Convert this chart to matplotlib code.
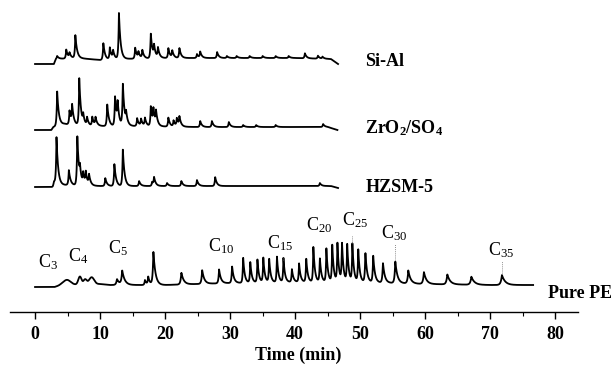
import numpy as np
import matplotlib
matplotlib.use("Agg")
import matplotlib.pyplot as plt

plt.rcParams['font.family'] = ['Liberation Serif', 'DejaVu Serif']
plt.rcParams['mathtext.fontset'] = 'custom'
plt.rcParams['mathtext.rm'] = 'Liberation Serif'
plt.rcParams['mathtext.default'] = 'regular'

# pyrolysis GC traces
# baseline knots (time min, level) and peaks (time min, height, width min)
sial_base_t = [0, 2.9, 3.2, 6.5, 10.0, 13.0, 20.0, 30.0, 40.0, 45.5, 46.6]
sial_base_y = [0, 0, 5, 6, 4, 5, 6, 6, 6, 5, 0]
sial_pk_t = [3.4, 4.8, 5.3, 6.2, 10.5, 11.5, 12.0, 12.9, 15.4, 15.9, 16.5, 17.8, 18.3, 18.9,
             20.5, 21.1, 22.2, 24.9, 25.4, 28.0, 29.5, 31.0, 33.0, 35.0, 37.0, 39.0, 41.5, 43.5, 44.2]
sial_pk_h = [3, 9, 5, 23, 17, 12, 8, 46, 11, 6, 8, 25, 11, 10,
             10, 7, 10, 4, 6, 6, 2, 2, 2, 2, 2, 2, 5, 3, 2]

zr_base_t = [0, 2.5, 2.8, 4.5, 8.0, 15.0, 25.0, 35.0, 45.0, 46.5]
zr_base_y = [0, 0, 3, 6, 4, 4, 3, 3, 3, 0]
zr_pk_t = [3.4, 5.3, 5.7, 6.8, 7.4, 8.0, 8.8, 9.3, 11.1, 12.3, 12.7, 13.5, 14.0, 15.7, 16.3,
           16.9, 17.8, 18.2, 18.6, 20.5, 21.3, 21.8, 22.2, 25.4, 27.2, 29.8, 32.0, 34.0, 37.0, 44.3]
zr_pk_h = [35, 14, 18, 47, 9, 8, 9, 8, 22, 30, 20, 42, 10, 8, 7,
           8, 20, 15, 13, 9, 6, 8, 9, 6, 6, 5, 2, 2, 2, 3]

hz_base_t = [0, 2.7, 3.0, 5.0, 10.0, 20.0, 30.0, 45.5, 46.6]
hz_base_y = [0, 0, 2, 2, 1, 1, 1, 1, -1]
hz_pk_t = [2.9, 3.3, 5.2, 6.5, 6.9, 7.4, 7.8, 8.3, 10.8, 12.2, 13.5, 16.0, 18.0, 18.3,
           20.3, 22.5, 24.9, 27.7, 43.8]
hz_pk_h = [4, 47, 15, 50, 12, 11, 12, 10, 8, 22, 37, 5, 4, 8,
           3, 5, 6, 9, 3]

pe_base_t = [0, 3.0, 4.0, 10.0, 11.5, 15.0, 20.0, 30.0, 40.0, 50.0, 60.0, 70.0, 74.0, 76.6]
pe_base_y = [0, 0, 2, 3, 2, 2, 2, 4, 5, 5, 3, 2, 2, 2]
pe_pk_t = [4.9, 6.9, 7.7, 8.7, 12.6, 13.4, 16.9, 17.4, 18.2, 22.5, 25.7, 28.3, 30.3, 32.0,
           33.1, 34.2, 35.1, 36.0, 37.2, 38.2, 39.5, 40.6, 41.7, 42.8, 43.8, 44.8, 45.7,
           46.5, 47.2, 48.0, 48.8, 49.7, 50.8, 52.0, 53.5, 55.4, 57.4, 59.8, 63.4, 67.1, 71.8]
pe_pk_h = [5, 8, 5, 7, 6, 14, 5, 8, 33, 12, 14, 14, 17, 26,
           21, 23, 25, 24, 26, 24, 13, 19, 24, 36, 24, 34, 38,
           39, 39, 38, 38, 33, 30, 27, 20, 22, 13, 12, 10, 8, 10]
pe_pk_w = [1.0, 0.45, 0.45, 0.7, 0.3, 0.3, 0.2, 0.2, 0.25, 0.28, 0.25, 0.22, 0.2, 0.18,
           0.18, 0.18, 0.18, 0.18, 0.18, 0.18, 0.18, 0.18, 0.18, 0.18, 0.18, 0.18, 0.18,
           0.18, 0.18, 0.18, 0.18, 0.18, 0.2, 0.2, 0.22, 0.25, 0.28, 0.3, 0.33, 0.36, 0.38]

carbon_labels = ['3', '4', '5', '10', '15', '20', '25', '30', '35']
carbon_t = [2.0, 6.6, 12.8, 28.6, 37.7, 43.7, 49.2, 55.2, 71.6]


def trace(bt, by, pt, ph, pw=None):
    t = np.linspace(0, bt[-1], 5000)
    y = np.interp(t, bt, by)
    if pw is None:
        pw = [0.2] * len(pt)
    for t0, h, w in zip(pt, ph, pw):
        d = t - t0
        if w >= 0.4:
            y += h * np.exp(-0.5 * (d / (0.55 * w)) ** 2)
        else:
            tau = np.where(d < 0, 0.45 * w, 1.3 * w)
            y += h * np.exp(-np.abs(d) / tau)
    return t, y


fig = plt.figure(figsize=(6.11, 3.69), dpi=100)
ax = fig.add_axes([10 / 611, 57 / 369, 568 / 611, 312 / 369])
ax.set_xlim(-3.85, 83.5)
ax.set_ylim(0, 312)

lines = [
    (trace(sial_base_t, sial_base_y, sial_pk_t, sial_pk_h), 312 - 64, 'Si-Al', 251),
    (trace(zr_base_t, zr_base_y, zr_pk_t, zr_pk_h), 312 - 130, 'ZrO$_2$/SO$_4$', 184),
    (trace(hz_base_t, hz_base_y, hz_pk_t, hz_pk_h), 312 - 187, 'HZSM-5', 125),
]
for (t, y), off, name, ly in lines:
    ax.plot(t, y + off, color='black', lw=1.3)
    ax.text(50.8, ly, name, fontsize=13, fontweight='bold', va='center', ha='left')

t, y = trace(pe_base_t, pe_base_y, pe_pk_t, pe_pk_h, pe_pk_w)
pe_off = 312 - 287
ax.plot(t, y + pe_off, color='black', lw=1.3)
ax.text(78.9, 19, 'Pure PE', fontsize=13, fontweight='bold', va='center', ha='left',
        clip_on=False)

# carbon number labels
lab_y = [50, 56, 64, 66, 69, 87, 92, 79, 62]
for c, tc, ly in zip(carbon_labels, carbon_t, lab_y):
    ax.text(tc, ly, 'C$_{%s}$' % c, fontsize=13, ha='center', va='center')
for tc, y0, y1 in [(38.2, 52, 56), (48.8, 69, 76), (55.4, 52, 68), (71.8, 39, 51)]:
    ax.plot([tc, tc], [y0, y1], color='0.4', lw=0.6, ls=(0, (1, 1.5)))

for s in ['top', 'right', 'left']:
    ax.spines[s].set_visible(False)
ax.spines['bottom'].set_linewidth(1.0)
ax.set_yticks([])
ax.set_xticks(np.arange(0, 81, 10))
ax.set_xticks(np.arange(5, 85, 10), minor=True)
ax.tick_params(axis='x', which='major', direction='out', length=5, width=1, pad=5,
               labelsize=13)
ax.tick_params(axis='x', which='minor', direction='out', length=3, width=0.8)
for lab in ax.get_xticklabels():
    lab.set_fontweight('bold')
ax.set_xlabel('Time (min)', fontsize=13, fontweight='bold')
ax.xaxis.set_label_coords((298 - 10) / 568, -35 / 312)

fig.savefig('out.png', dpi=100)
